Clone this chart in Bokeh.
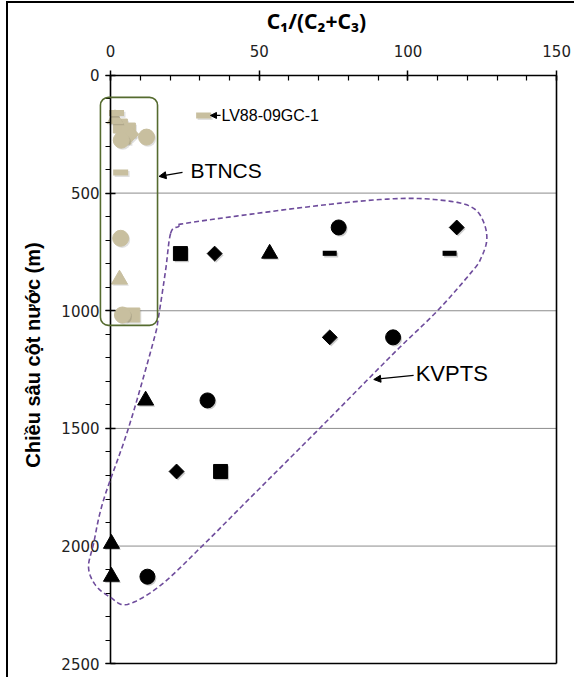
import numpy as np
from bokeh.plotting import figure
from bokeh.models import (Range1d, SingleIntervalTicker, FixedTicker, LinearAxis,
                          PolyAnnotation, BoxAnnotation, Arrow, NormalHead, Label,
                          ColumnDataSource)
from bokeh.transform import dodge
from bokeh.embed import file_html
from bokeh.resources import INLINE

# ---------------- data ----------------
x_ticks = [0, 50, 100, 150]
y_ticks = [0, 500, 1000, 1500, 2000, 2500]

# KVPTS samples (black markers): x = C1/(C2+C3), y = water depth (m)
kv_circle_x = [76.7, 95.0, 32.6, 12.4]
kv_circle_y = [646, 1113, 1381, 2130]
kv_diamond_x = [116.4, 35.0, 73.7, 22.2]
kv_diamond_y = [646, 757, 1113, 1683]
kv_square_x = [23.5, 37.0]
kv_square_y = [757, 1683]
kv_triangle_x = [53.5, 11.8, 0.3, 0.3]
kv_triangle_y = [757, 1381, 1990, 2130]
kv_dash_x = [73.7, 114.0]
kv_dash_y = [756, 756]

# BTNCS samples (tan markers)
bt_circle_x = [12.1, 3.6, 3.4, 4.0]
bt_circle_y = [262, 275, 692, 1018]
bt_square_x = [3.3, 6.0, 4.5, 7.5]
bt_square_y = [215, 232, 262, 1018]
bt_triangle_x = [1.5, 3.0]
bt_triangle_y = [185, 867]
bt_diamond_x = [7.0]
bt_diamond_y = [250]
bt_dash_x = [2.0, 3.4, 31.3]
bt_dash_y = [160, 412, 170]

# outline of the KVPTS field (hand-drawn loop), control points
loop_x = [20.2, 22.9, 26.9, 70.6, 97.5, 114.4, 122.1, 125.5, 126.5, 124.5, 121.8,
          110.0, 95.2, 70.6, 46.1, 30.3, 16.8, 5.7, 0.0, -5.0, -7.4, -5.7, -2.4,
          6.1, 14.5, 16.1, 18.5]
loop_y = [671, 642, 625, 552, 523, 535, 565, 625, 701, 778, 829,
          999, 1181, 1496, 1806, 2006, 2167, 2248, 2218, 2167, 2091, 1989, 1806,
          1496, 1126, 1028, 829]

# BTNCS box extent
box_left, box_right, box_top, box_bottom = -3.4, 15.8, 93, 1062

# ---------------- figure ----------------
TAN = "#C8BF9F"
# the frame is larger than the plot area so that the outlines and tick labels
# around the axes are not clipped
X0, X1, Y0, Y1 = -17.5, 156, -174, 2550
p = figure(frame_width=516, frame_height=641,
           x_range=Range1d(X0, X1), y_range=Range1d(Y1, Y0),
           x_axis_location="above", output_backend="svg", toolbar_location=None,
           min_border_left=50, min_border_top=31, min_border_right=0, min_border_bottom=2)
p.styles = {"border-top": "2px solid black", "border-left": "2px solid black",
            "margin-left": "6px", "margin-top": "1px"}
p.background_fill_color = "white"
p.outline_line_color = None
p.xgrid.visible = False
p.ygrid.visible = False

xt = SingleIntervalTicker(interval=50, num_minor_ticks=5)
yt = SingleIntervalTicker(interval=500, num_minor_ticks=5)

xa = p.xaxis[0]
ya = p.yaxis[0]
xa.ticker = xt
ya.ticker = yt
xa.bounds = (x_ticks[0], x_ticks[-1])
ya.bounds = (y_ticks[0], y_ticks[-1])
xa.fixed_location = y_ticks[0]
ya.fixed_location = x_ticks[0]

for ax in (xa, ya):
    ax.axis_line_color = "black"
    ax.axis_line_width = 1.6
    ax.major_tick_line_color = "black"
    ax.minor_tick_line_color = "black"
    ax.major_tick_line_width = 1.5
    ax.minor_tick_line_width = 1.2
    ax.major_tick_in = 5
    ax.major_tick_out = 5
    ax.major_label_text_font = "DejaVu Sans"
    ax.major_label_text_font_size = "15px"
    ax.major_label_text_color = "#222222"

xa.minor_tick_in = 5
xa.minor_tick_out = 0
ya.minor_tick_in = 0
ya.minor_tick_out = 5
xa.major_label_standoff = 13
ya.major_label_standoff = 6

# title axis (top) and y label axis (left), text only
title_axis = LinearAxis(axis_label="C₁/(C₂+C₃)", ticker=FixedTicker(ticks=[]),
                        bounds=(0, 140), axis_line_color=None,
                        major_tick_in=0, major_tick_out=0, minor_tick_in=0, minor_tick_out=0,
                        axis_label_text_font="Noto Sans", axis_label_text_font_style="bold",
                        axis_label_text_font_size="21px", axis_label_text_color="black",
                        axis_label_standoff=0)
p.add_layout(title_axis, "above")

ylabel_axis = LinearAxis(axis_label="Chiều sâu cột nước (m)", ticker=FixedTicker(ticks=[]),
                         bounds=(0, 1954), axis_line_color=None,
                         major_tick_in=0, major_tick_out=0, minor_tick_in=0, minor_tick_out=0,
                         axis_label_text_font="Liberation Sans",
                         axis_label_text_font_style="bold",
                         axis_label_text_font_size="20px", axis_label_text_color="black",
                         axis_label_standoff=15)
p.add_layout(ylabel_axis, "left")

# plot-area border on the right (x = 150) and bottom (depth 2500)
p.add_layout(LinearAxis(ticker=FixedTicker(ticks=[]), bounds=(y_ticks[0], y_ticks[-1]),
                        fixed_location=x_ticks[-1],
                        axis_line_color="black", axis_line_width=1.6,
                        major_tick_in=0, major_tick_out=0,
                        minor_tick_in=0, minor_tick_out=0), "right")
p.add_layout(LinearAxis(ticker=FixedTicker(ticks=[]), bounds=(x_ticks[0], x_ticks[-1]),
                        fixed_location=y_ticks[-1],
                        axis_line_color="black", axis_line_width=1.6,
                        major_tick_in=0, major_tick_out=0,
                        minor_tick_in=0, minor_tick_out=0), "below")

# horizontal gridlines across the plot area only
gy = y_ticks[1:-1]
p.segment(x0=[x_ticks[0]] * len(gy), x1=[x_ticks[-1]] * len(gy), y0=gy, y1=gy,
          line_color="#8C8C8C", line_width=1)

# ---------------- annotations: loop and box ----------------
P = np.column_stack([loop_x, loop_y]).astype(float)
n = len(P)
sm = []
for i in range(n):
    p0, p1, p2, p3 = P[(i - 1) % n], P[i], P[(i + 1) % n], P[(i + 2) % n]
    for t in np.linspace(0, 1, 10, endpoint=False):
        t2, t3 = t * t, t * t * t
        sm.append(0.5 * ((2 * p1) + (-p0 + p2) * t + (2 * p0 - 5 * p1 + 4 * p2 - p3) * t2
                         + (-p0 + 3 * p1 - 3 * p2 + p3) * t3))
sm = np.array(sm + [sm[0]])

p.add_layout(PolyAnnotation(xs=list(sm[:, 0]), ys=list(sm[:, 1]), fill_alpha=0,
                            line_color="#6E4C9C", line_alpha=1, line_width=1.6,
                            line_dash="5 3"))
p.add_layout(BoxAnnotation(left=box_left, right=box_right, top=box_top, bottom=box_bottom,
                           fill_alpha=0, line_color="#556B2F", line_alpha=1, line_width=1.6,
                           border_radius=8))

# ---------------- markers ----------------
def draw(xs, ys, marker, color, size, shadow_alpha, angle=0.0, lw=1.0):
    src = ColumnDataSource(dict(x=xs, y=ys))
    kw = dict(marker=marker, size=size, angle=angle)
    sx = dodge("x", 0.5, range=p.x_range)
    sy = dodge("y", 7, range=p.y_range)
    if marker == "dash":
        p.scatter(x=sx, y=sy, source=src, line_color="black", line_alpha=shadow_alpha,
                  line_width=lw, **kw)
        p.scatter(x="x", y="y", source=src, line_color=color, line_width=lw, **kw)
    else:
        p.scatter(x=sx, y=sy, source=src, fill_color="black", fill_alpha=shadow_alpha,
                  line_color=None, **kw)
        p.scatter(x="x", y="y", source=src, fill_color=color, line_color=color, **kw)

# tan (BTNCS)
draw(bt_square_x, bt_square_y, "square", TAN, 14, 0.12)
draw(bt_triangle_x, bt_triangle_y, "triangle", TAN, 16, 0.12)
draw(bt_diamond_x, bt_diamond_y, "square", TAN, 10.5, 0.12, angle=np.pi / 4)
draw(bt_circle_x, bt_circle_y, "circle", TAN, 16, 0.12)
draw(bt_dash_x, bt_dash_y, "dash", TAN, 15, 0.12, lw=6)

# black (KVPTS)
draw(kv_circle_x, kv_circle_y, "circle", "black", 15, 0.2)
draw(kv_diamond_x, kv_diamond_y, "square", "black", 10.5, 0.2, angle=np.pi / 4)
draw(kv_square_x, kv_square_y, "square", "black", 14, 0.2)
draw(kv_triangle_x, kv_triangle_y, "triangle", "black", 16, 0.2)
draw(kv_dash_x, kv_dash_y, "dash", "black", 14, 0.2, lw=5)

# ---------------- labels with arrows ----------------
FONT = "Liberation Sans"
p.add_layout(Arrow(end=NormalHead(size=6, fill_color="black", line_color="black"),
                   x_start=37.0, y_start=170, x_end=33.6, y_end=170,
                   line_color="black", line_width=1.2))
p.add_layout(Label(x=37.3, y=170, text="LV88-09GC-1", text_baseline="middle",
                   text_font=FONT, text_font_size="16px", text_color="black"))

p.add_layout(Arrow(end=NormalHead(size=7, fill_color="black", line_color="black"),
                   x_start=24.2, y_start=412, x_end=16.3, y_end=429,
                   line_color="black", line_width=1.3))
p.add_layout(Label(x=26.9, y=404, text="BTNCS", text_baseline="middle",
                   text_font=FONT, text_font_size="21px", text_color="black"))

p.add_layout(Arrow(end=NormalHead(size=7, fill_color="black", line_color="black"),
                   x_start=101.9, y_start=1275, x_end=88.5, y_end=1292,
                   line_color="black", line_width=1.3))
p.add_layout(Label(x=102.6, y=1268, text="KVPTS", text_baseline="middle",
                   text_font=FONT, text_font_size="22px", text_color="black"))

open("out.html", "w").write(file_html(p, INLINE))
